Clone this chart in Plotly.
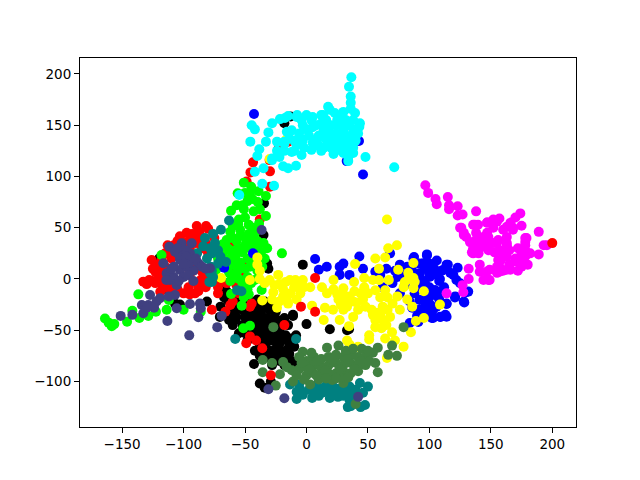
import plotly.graph_objects as go

black_pts = [(-18,152),(-13,158.6),(-34.6,73.8),(-35,43),(-3,14),(0,-44),(-11,-35),(-8.5,-55),(-16,-69),(-24,-76),(-12,-80),(-42.7,-83),(-38,-102),(-34,-106),(-24,-40),(-30,-25.5),(-32,15),(-31,10),(-120,20),(-115,-10),(-107,-24),(-103,-25),(-81,-22),(-70.5,-10),(-67,-18),(-70,-27),(-70.5,-37),(-64,-21),(-67,-7),(-60,-45),(-57,-37),(-50,-37),(-44,-40),(-37,-33),(-38,-50),(-30,-50),(-22,-50),(-33,-63),(-22,-63),(-14,-63),(-50,-53),(-55,-53),(-41,-44),(-28,-60),(-32,-76),(19,-49),(34.6,-49),(33,-50),(-11,-36),(-45,-30),(-42,-36),(-36,-42),(-34,-47),(-29,-42),(-26,-46),(-19,-44),(-17,-55),(-26,-54),(-31,-56),(-37,-57),(-43,-55),(-46,-48),(-52,-45),(-48,-42),(-58,-30),(-62,-28),(-65,-12),(-60,-15),(-55,-20),(-25,-68),(-30,-70),(-36,-73),(-20,-71),(-14,-73),(-10,-66),(-18,-84),(-28,-84),(-29,-100),(-23,-58),(-38,-66),(-10,-85),(-6,-82),(-41,-25),(-46,-33),(-34,-22),(-26,-37),(-58,-40),(-52,-30),(-47,-50),(-42,-48),(-35,-55),(-30,-60),(-25,-75),(-20,-60),(-18,-38),(-15,-45),(-12,-58),(-42,-30),(-35,-28),(-32,-38),(-38,-38),(-45,-42),(-48,-60),(-42,-70),(-38,-75),(-28,-72),(-22,-80),(-15,-78),(-30,-30),(-40,-20),(-60,-35),(-52,-50),(-63,-40),(-56,-26),(-46,-22),(-25,-32),(-12,-65),(-17,-75)]
red_pts = [(-43.5,113.8),(-45.6,104),(-29.7,105),(-29.7,90),(-23,126.5),(-15,134),(-30,116),(-48.7,95),(-38,58),(-89.3,51.7),(-81.7,51.7),(-97.5,45),(-103,41.6),(-113,33),(-91,43),(-80,49),(-105,37),(-126,18.5),(-123,7),(-132.8,-2.6),(-128,-1),(-123,-4),(-119,-12.4),(-115,25),(-92,-2.6),(-86,-1),(-90.7,-14),(-100,-14),(-77,-30),(-62,-25.4),(-66,-32),(-44.6,-24),(-46,-27),(-60,-22),(-65,-4),(-57,-6),(-47,15),(-49,-62.7),(-46,-56),(-41,-60),(-36,-67.6),(-61,31.5),(-110,28),(-100,30),(-95,38),(-87,46),(-108,33),(-118,10),(-120,2),(-112,-4),(-117,-6),(-122,14),(-95,4),(-90,10),(-85,7),(-82,-8),(-96,-8),(-88,-8),(-80,2),(-105,-10),(-72,-14),(-70,-2),(-60,5),(-52,8),(-55,-14),(-50,2),(-82,35),(-75,40),(-93,22),(-98,12),(-125,-2),(-130,-5),(-120,5),(-115,12),(-110,20),(-105,25),(-100,36),(-95,30),(-90,35),(-85,30),(-80,25),(-112,-10),(-88,-12),(-72,-8),(-95,-15),(-125,10),(-118,18),(-93,44),(-86,40)]
lime_pts = [(-51,94),(-45,90),(-56,83.6),(-39,85.6),(-46,83),(-33,81),(-48,76),(-56.8,72),(-39.6,75),(-61.4,66.6),(-43,66),(-51,68),(-33,61.5),(-38.6,54),(-55.6,54),(-47,53),(-62,46),(-54,48),(-42,45),(-65,38),(-49,38),(-57,37),(-40,37),(-32,30),(-70,32),(-118,23.4),(-20,25),(-36.5,-10.7),(-61.4,-14.6),(-52.7,-26),(-51.4,-48),(-46,-45.6),(-136.8,-15),(-113.8,-30),(-112,-20.5),(-122.5,-32),(-100,-30),(-141.7,-31),(-128.7,-36),(-136,-38),(-146,-41.6),(-164,-38.5),(-161,-42.6),(-158.5,-46),(-156.4,-44),(-86,-32),(-48,-10),(-68,24),(-62,28),(-58,22),(-52,26),(-46,30),(-42,22),(-37,26),(-66,18),(-60,14),(-54,16),(-48,20),(-43,14),(-38,18),(-70,12),(-63,6),(-56,8),(-50,10),(-40,8),(-62,-2),(-55,0),(-48,2),(-52,-5),(-45,-4),(-54,42),(-47,44),(-64,30),(-72,20),(-74,8),(-42,-1),(-47,-15),(-51,-18),(-55,58),(-50,60),(-53,30),(-44,37),(-60,40),(-68,34),(-56,30),(-50,33),(-40,30),(-35,35),(-62,20),(-56,15),(-46,12),(-36,12),(-34,20),(-66,12),(-58,2),(-50,-8),(-44,50),(-60,52),(-52,72),(-44,78),(-50,84),(-38,68)]
blue_pts = [(-42.7,161),(42.7,134.6),(32.7,115),(46,102),(-43.5,25),(-67,11),(7,19.5),(10,9),(16.5,12),(27,12),(30,15),(43,22),(46,10),(56,7),(35,4),(27,4),(68,25),(87,20),(98,23),(76,14),(92,15),(100,15),(106,18),(114,14),(123,11),(130,-13),(128,-22),(121,-17),(113,-35),(109,-37),(102,-38),(91,-42),(84,-43),(114,-24),(103,-30),(95,-20),(92,-8),(100,-8),(106,4),(117,6),(122,-1),(76,-14),(70,-4),(62,-8),(92,4),(100,5),(86,8),(96,10),(104,10),(110,8),(108,-2),(112,-8),(96,-2),(88,-2),(104,-14),(108,-20),(100,-24),(92,-30),(97,-34),(86,-28),(80,-6),(74,2),(33,-72),(65,10),(80,4),(87.5,21.5),(98,24),(115,14),(103,8.8),(95,15.3),(111,8.8),(92,5.5),(100.5,2.3),(119.5,3.9),(96.4,-4.2),(108.6,0),(111,-10.7),(104.6,-10.7),(92,-20.5),(100.5,-17),(107,-17),(114,-24.4),(108.6,-36.8),(114,-36.8),(103,-38),(120.8,-18),(128.4,-22.9),(131.6,-12.3),(125,-4.2),(96.4,-27),(92,-33.5),(100,-33.5),(105.8,-27),(82,12),(88,-14),(84,-22),(90,-36),(72,8),(60,4)]
yellow_under_pts = [(-30,117),(-16.4,136)]
cyan_pts = [(-44.6,150),(-42,146),(-45.7,134),(-31,143),(-33,134),(-38.4,126.6),(-40,120),(-42,104.7),(-35,108),(-28,117.6),(-24,134),(-16,143.6),(-28,152),(-21.6,156),(-15,159),(-7.6,160),(0,160),(12,160),(17.6,168),(-36,93),(-26.4,91),(-54.7,82),(-19,110),(-15,108),(-8.5,110.5),(-22,119),(-12,124),(-4,121),(4,126),(36.5,196.8),(34.6,187.6),(36,178),(36,172),(36,166),(39.5,162),(43.5,152),(43,148.6),(30,163),(23,162),(19,165),(36,126),(34,119),(34,115),(48,119),(71.4,109),(-10,135),(-6,142),(-3,150),(2,140),(5,133),(10,130),(14,145),(8,150),(16,155),(20,150),(24,142),(18,135),(24,130),(28,135),(30,145),(34,150),(38,155),(32,155),(28,158),(36,140),(40,135),(42,142),(26,126),(20,128),(14,128),(34,130),(38,128),(30,128),(-2,128),(-8,131),(-14,137),(-4,155),(4,155),(12,152),(25,150),(38,146),(-18,125),(5,148),(10,140),(15,148),(20,142),(25,155),(30,150),(35,135),(40,145),(12,125),(22,122),(30,123),(38,123),(-5,137),(-18,132),(-12,145),(-24,125),(-8,158),(-17.5,157),(5,158),(13.5,160),(0,146),(-3,135),(8,136),(15,137),(22,136),(30,138),(37,134),(-10,125),(-28,116),(-18,134)]
magenta_pts = [(96.7,91.4),(99,84),(105,78),(106,73),(115,80),(116,72),(116,68),(123,71),(123,62),(127,63),(138,66),(174,64),(170,60),(157,59),(152,58),(147,55),(189,46),(193,33),(195.6,33),(175,52),(179,40),(178,36),(125,50),(128,43),(135.6,53),(139.6,53),(135.6,30),(144,41),(152,50),(163,41),(166,55),(160,48),(168,48),(155,35),(163,33),(148,33),(141,30),(178,28),(132,10),(132,0),(127,-6),(127.6,-13),(114,-14),(144,-1),(149,-1),(141,7),(149,9),(155,6),(135.6,25),(128,45),(153,26),(144,35),(148,41),(156,38),(160,25),(170,20),(175,15),(178,22),(165,14),(158,18),(160,8),(172,8),(155,12),(180,14),(166,9),(174,19),(157,7),(138,38),(133,36),(148,28),(165,28),(172,30),(137,53),(141,35),(140,25),(134.6,26),(141,14),(146.6,7),(148,-1),(157,12),(163,9),(175,12),(170,17),(182,25),(189,24),(178,40),(178,33),(175,25),(163,21.6),(156,18.5),(157,28),(163,35),(152,35),(147,45),(155,56),(138,45),(168,50),(163,51),(147,55),(126,50),(130,41)]
yellow_pts = [(65.5,58),(73.6,33),(66.5,30),(64,21),(56,20),(39.5,14.6),(59,10),(74.6,9),(87,15.6),(82.8,6),(87,1),(79,-8),(87,-9),(95.5,-12),(82,-20),(86,-27),(108.6,-25),(95.5,-38),(89,-41),(85,-52),(79,-66),(72,-60),(69.6,-52),(64,-58),(65.5,-77),(51,-55),(51,-59),(33,-60),(35,-64),(42,-66),(34.6,-46),(27,-40),(14,-40),(38,-37),(21.6,-30),(15,-28),(4.5,-26),(-27,-13),(-36,-21),(-24,-28),(-19,-17),(-15,-24),(-9,-1),(-3,-1),(3,-8),(-23,4),(-30,-1),(-40,21),(-40,14),(-38,8),(-46,-1),(-13.5,-1),(-5,-14),(12.6,-8),(16.7,-14),(22,-1),(30,-9),(38.7,-3),(47,1),(54,-1),(59,-1),(67,-1),(56,-11),(64,-11),(35,-17),(41,-23),(33,-27),(46,-20),(53,-30),(62,-27),(70,-24),(76,-30),(56,-40),(62,-40),(68,-37),(61,-48),(54,-35),(33,-20),(-19,-10),(-13,-14),(-69.5,1),(-22,-5),(-10,-8),(-17,-3),(26,-20),(30,-30),(39,-12),(47,-8),(25,-15),(42,-30),(50,-14),(60,-18),(66,-18),(74,-17),(58,-33),(-28,-20),(-8,-20),(22,-10),(-34,-4),(83,0),(88,-3),(80,-3),(-16,-20),(-22,-22),(-6,-7),(30,-15),(38,-22),(48,-27),(60,-35),(66,-30),(65,-45),(56,-47),(28,-25),(44,-14),(-26,-6),(-38,0),(-2,-8)]
teal_pts = [(-63,57),(-69.6,48),(-76,44),(-82.6,40),(-78.5,30),(-81,20),(-89,25),(-65.5,16.6),(-78.5,6),(-77,-3),(-56.5,-11),(-53,-12),(-58,-58.5),(-8.5,-58.5),(-74.5,35),(-77,25),(-13.4,-103),(-5,-108),(-8,-117),(4.6,-116),(-3,-113),(12.6,-111),(19,-116),(25.6,-115),(33.6,-125),(44,-125),(47.6,-123),(35,-118),(50,-105),(43.5,-101.5),(35,-105),(21.6,-105),(15,-106),(8.5,-103),(29,-108),(46,-111),(5,-77),(-78,12),(-76,2),(18,-110),(38,-112),(26,-107),(12,-108),(-72,28),(-84,32),(-72,15),(-70,22),(-77,8),(-79,-3),(6,-109),(33,-110),(40,-108),(40,-118),(-6,-103),(2,-108),(24,-110),(10,-114),(16,-104),(-8,-110),(30,-114),(36,-124)]
green_pts = [(-27,-47),(-3,-71),(16.7,-67),(26,-65),(45,-68),(58,-67),(69.6,-65),(73.6,-75),(66.5,-74),(58,-91),(56,-82),(79,-47),(-35.6,-79),(-28,-82),(-35.6,-91),(-19,-81),(-21.6,-93),(-25,-104),(-12,-89),(-11,-100),(3,-103),(30,-101.5),(21,-98.5),(40,-122),(-6,-76),(0,-80),(6,-76),(12,-78),(18,-76),(24,-74),(30,-76),(36,-74),(42,-76),(48,-76),(54,-72),(-6,-88),(0,-86),(6,-84),(12,-86),(18,-84),(24,-82),(30,-84),(36,-82),(42,-84),(48,-84),(0,-94),(6,-92),(12,-94),(18,-92),(24,-92),(30,-90),(36,-92),(42,-90),(-2,-98),(10,-98),(28,-96),(-8,-94),(4,-72),(32,-70),(-4,-82),(3,-88),(9,-80),(15,-89),(21,-79),(27,-88),(33,-78),(39,-88),(45,-80),(8,-94),(16,-97),(24,-97),(34,-96),(51,-80),(-16,-86),(38,-68),(50,-70)]
slate_pts = [(-36.5,47.8),(-111.6,31.5),(-101.6,34.8),(-93.4,34.8),(-107,26.7),(-116.5,15.3),(-102.9,18.5),(-94.8,25),(-88,15.3),(-78.5,10.4),(-113.8,5.5),(-102.9,8.8),(-111,-1),(-105.6,-5.9),(-107,-15.6),(-127.3,-15.6),(-119.2,-18.8),(-134,-25.4),(-128.7,-25.4),(-132.8,-33.5),(-151.2,-36),(-141.7,-35),(-113.2,-41),(-105.6,-28.6),(-94.8,-24.4),(-86.7,-23.8),(-86,-28.6),(-88,-37.4),(-72.6,-47),(-95.4,-55),(-69,-36),(-31,-107.6),(-18,-116.4),(42,-115),(-108,12),(-98,12),(-92,8),(-108,2),(-100,2),(-95,16),(-104,24),(-98,28),(-122,-22),(-124,-28),(-105,30),(-98,22),(-100,15),(-110,10),(-96,4),(-104,-2),(-85,12),(-92,-2),(-90,20),(-114,-1),(-82,10),(-130,-28),(-112,-17)]
red_top_pts = [(7,1),(-4.5,-27),(7,-32),(-29,-94),(-18,-45),(200,35)]

series = [(black_pts, "#000000"), (red_pts, "#ff0000"), (lime_pts, "#00ff00"), (blue_pts, "#0000ff"),
          (yellow_under_pts, "#ffff00"), (cyan_pts, "#00ffff"), (magenta_pts, "#ff00ff"), (yellow_pts, "#ffff00"),
          (teal_pts, "#008080"), (green_pts, "#408040"), (slate_pts, "#404080"), (red_top_pts, "#ff0000")]

x_ticks = [-150, -100, -50, 0, 50, 100, 150, 200]
y_ticks = [-100, -50, 0, 50, 100, 150, 200]

fig = go.Figure()
for pts, color in series:
    fig.add_trace(go.Scatter(x=[p[0] for p in pts], y=[p[1] for p in pts], mode="markers",
                             marker=dict(color=color, size=10, line=dict(width=0)), showlegend=False))

axis = dict(showgrid=False, zeroline=False, showline=True, linecolor="black", linewidth=1, mirror=True,
            ticks="outside", ticklen=5, tickwidth=1, tickcolor="black")
fig.update_layout(
    width=632, height=472, margin=dict(l=72, r=64, t=50, b=53),
    paper_bgcolor="white", plot_bgcolor="white",
    font=dict(family="DejaVu Sans", size=13.5, color="black"),
    xaxis=dict(range=[-184.3, 219.3], tickvals=x_ticks, **axis),
    yaxis=dict(range=[-144.4, 215.6], tickvals=y_ticks, **axis),
)
fig.write_html("out.html")
